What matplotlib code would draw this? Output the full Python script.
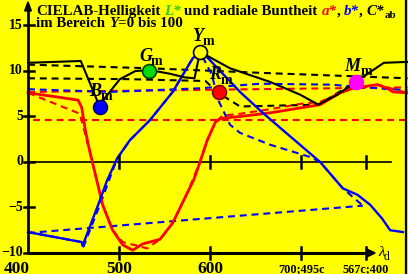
import matplotlib
matplotlib.use('Agg')
import matplotlib.pyplot as plt
from matplotlib.patches import Polygon

plt.rcParams['lines.scale_dashes'] = False

# ---------------- data (x: wavelength-like axis, y: CIELAB units) ----------------
xtick_pos = [400, 500, 600, 700, 771]
xtick_lab = ['400', '500', '600', '700;495c', '567c;400']
ytick_pos = [-10, -5, 0, 5, 10, 15]
ytick_lab = ['\u221210', '\u22125', '0', '5', '10', '15']

# black solid (lightness related curve)
bk_x = [400, 458, 477, 479, 485, 501, 518, 534, 556, 572, 583, 589, 622, 666, 699, 719, 740, 760, 791, 817]
bk_y = [10.9, 11.1, 6.5, 6.0, 7.1, 9.1, 10.0, 10.1, 9.7, 9.3, 9.2, 12.1, 10.3, 8.8, 7.4, 6.3, 7.4, 8.8, 10.9, 11.0]

# black dashed curves
kd1_x = [400, 534, 655, 817]
kd1_y = [10.7, 10.3, 9.8, 9.2]
kd2_x = [400, 512, 595, 609, 633, 719, 760]
kd2_y = [9.2, 9.1, 8.9, 7.6, 6.1, 6.3, 8.8]

# blue solid b*
bs_x = [400, 459, 460, 479, 487, 498, 512, 534, 559, 581, 589, 597, 633, 658, 721, 746, 762, 776, 789, 798, 812]
bs_y = [-7.7, -8.8, -9.2, -4.2, -2.0, 0.4, 2.4, 4.6, 7.7, 11.4, 12.1, 11.5, 7.7, 5.4, 0.0, -2.9, -3.6, -4.7, -6.2, -7.5, -7.7]

# blue dashed b* variant
bd_x = [400, 459, 461, 481, 498, 512, 534, 559, 581, 589, 602, 609, 622, 633, 666, 710, 721, 746, 768]
bd_y = [-7.7, -8.8, -9.3, -4.2, 0.4, 2.4, 4.6, 7.7, 11.4, 12.1, 9.6, 6.8, 4.1, 3.2, 1.9, 0.55, 0.0, -2.9, -4.8]

# blue dashed straight line and upper blue dashed line
bl_x = [400, 768]
bl_y = [-7.8, -4.8]
bh_x = [400, 490, 589, 655, 732, 798, 817]
bh_y = [8.0, 7.7, 8.1, 8.6, 8.5, 8.0, 7.9]

# red solid a*
rs_x = [400, 435, 455, 459, 463, 466, 476, 482, 493, 504, 515, 526, 545, 559, 575, 582, 589, 597, 606, 612, 633, 666, 721, 743, 757, 784, 795, 801, 817]
rs_y = [7.6, 7.1, 6.8, 6.0, 3.5, 2.0, -2.2, -4.7, -7.5, -9.1, -9.7, -9.0, -8.5, -6.7, -3.4, -2.0, 0.0, 2.4, 4.4, 4.8, 5.0, 5.4, 6.3, 7.6, 8.1, 8.5, 8.1, 7.7, 7.6]

# red dashed a* variant
rd_x = [400, 457, 463, 476, 482, 493, 504, 520, 531, 545, 559, 575, 589, 597, 606, 614, 633, 666, 700, 721, 743, 757, 784, 817]
rd_y = [7.6, 5.3, 3.0, -2.2, -4.7, -7.5, -8.8, -9.2, -9.5, -8.5, -6.7, -3.4, 0.0, 2.4, 4.4, 5.1, 5.3, 5.8, 6.4, 6.6, 7.6, 8.1, 8.5, 7.6]

# red dashed horizontal lines
rh1_x = [400, 817]
rh1_y = [7.7, 8.2]
rh2_x = [405, 815]
rh2_y = [4.6, 4.6]

# marked points
pt_names = ['B', 'G', 'Y', 'R', 'M']
pt_x = [479, 533, 589, 610, 760]
pt_y = [6.0, 10.0, 12.1, 7.7, 8.8]
pt_fc = ['#0000ff', '#00dd00', '#ffff00', '#ff0000', '#ff00ff']
pt_ec = ['#000080', '#004000', '#000000', '#800000', '#ff00ff']
lab_x = [474, 529, 586, 606, 756]
lab_y = [7.8, 11.6, 13.8, 9.6, 10.5]
sub_dx = [12.5, 12.5, 12.0, 12.5, 15.5]

# ---------------- figure ----------------
W, H, DPI = 408, 274, 100
YEL = '#ffff00'
fig = plt.figure(figsize=(W / DPI, H / DPI), dpi=DPI, facecolor=YEL)
ax = fig.add_axes([0, 0, 1, 1])
ax.set_facecolor(YEL)
X0, X1 = 369.23, 817.58
Y0, Y1 = -12.308, 17.802
ax.set_xlim(X0, X1)
ax.set_ylim(Y0, Y1)
ax.axis('off')

SERIF = 'Liberation Serif'
DASH = (5, 3.5)

# axes
ax.plot([400, 400], [-10, 17.2], color='black', lw=2.0, solid_capstyle='butt', zorder=5)
ax.add_patch(Polygon([[396.3, 16.6], [403.7, 16.6], [400, 17.6]], closed=True, color='black', zorder=5))
ax.plot([400, 771], [-10, -10], color='black', lw=2.2, solid_capstyle='butt', zorder=5)
ax.add_patch(Polygon([[772, -9.55], [772, -10.45], [781.5, -10]], closed=True, color='black', zorder=5))
ax.plot([400, 799], [0, 0], color='black', lw=1.2, zorder=1)
for xv in xtick_pos[1:]:
    ax.plot([xv, xv], [-0.65, 0.65], color='black', lw=1.8, zorder=5)
    ax.plot([xv, xv], [-10.65, -9.35], color='black', lw=1.8, zorder=5)
for yv in ytick_pos:
    ax.plot([395.5, 406.5], [yv, yv], color='black', lw=1.8, zorder=5)
# right border
ax.plot([815.6, 815.6], [Y0, Y1], color='black', lw=1.6, zorder=5)

# curves
ax.plot(kd1_x, kd1_y, color='black', lw=1.5, dashes=DASH, zorder=2)
ax.plot(kd2_x, kd2_y, color='black', lw=1.5, dashes=DASH, zorder=2)
ax.plot(rh1_x, rh1_y, color='red', lw=1.5, dashes=DASH, zorder=2)
ax.plot(rh2_x, rh2_y, color='red', lw=1.5, dashes=DASH, zorder=2)
ax.plot(bh_x, bh_y, color='blue', lw=1.5, dashes=DASH, zorder=2)
ax.plot(bl_x, bl_y, color='blue', lw=1.5, dashes=DASH, zorder=2)
ax.plot(rd_x, rd_y, color='red', lw=1.5, dashes=DASH, zorder=2)
ax.plot(bd_x, bd_y, color='blue', lw=1.5, dashes=DASH, zorder=2)
ax.plot(rs_x, rs_y, color='red', lw=2.0, zorder=3)
ax.plot(bs_x, bs_y, color='blue', lw=1.7, zorder=3)
ax.plot(bk_x, bk_y, color='black', lw=1.5, zorder=3)

# points and labels
for n, x, y, fc, ec, lx, ly, sd in zip(pt_names, pt_x, pt_y, pt_fc, pt_ec, lab_x, lab_y, sub_dx):
    ax.plot([x], [y], 'o', ms=10, mfc=fc, mec=ec, mew=1.2, zorder=6)
    ax.text(lx, ly, n, family=SERIF, weight='bold', style='italic', size=13,
            ha='center', va='center', zorder=7)
    ax.text(lx + sd, ly - 0.6, 'm', family=SERIF, weight='bold', size=10,
            ha='center', va='center', zorder=7)

# tick labels
for yv, s in zip(ytick_pos, ytick_lab):
    ax.text(394.5, yv, s, family=SERIF, weight='bold', size=10, ha='right', va='center')
big = {'400': 387.5}
for xv, s in zip(xtick_pos, xtick_lab):
    if len(s) == 3:
        ax.text(big.get(s, xv), -12.25, s, family=SERIF, weight='bold', size=12.5,
                ha='center', va='baseline')
    else:
        ax.text(xv, -12.05, s, family=SERIF, weight='bold', size=8.8,
                ha='center', va='baseline')
ax.text(785, -10.3, '\u03bb', family=SERIF, style='italic', size=11, ha='left', va='baseline')
ax.text(791, -10.8, 'd', family=SERIF, size=8.5, ha='left', va='baseline')

# title (multi-coloured, laid out piece by piece)
renderer = fig.canvas.get_renderer()


def space_w(fp):
    a = fig.text(0, 0, 'x x', **fp)
    b = fig.text(0, 0, 'xx', **fp)
    w = a.get_window_extent(renderer).width - b.get_window_extent(renderer).width
    a.remove(); b.remove()
    return w


def seq(x, y, pieces):
    for s, color, style, size, dy in pieces:
        fp = dict(family=SERIF, weight='bold', style=style, size=size)
        sw = space_w(fp)
        core = s.strip(' ')
        lead = len(s) - len(s.lstrip(' '))
        trail = len(s) - len(s.rstrip(' '))
        x += lead * sw
        t = fig.text(x / W, 1 - (y + dy) / H, core, color=color, va='baseline', ha='left', **fp)
        x += t.get_window_extent(renderer).width + trail * sw


TS = 10.8
seq(36, 15, [
    ('CIELAB-Helligkeit ', 'black', 'normal', TS, 0),
    ('L*', '#22cc22', 'italic', TS, 0),
    (' und radiale Buntheit ', 'black', 'normal', TS, 0),
    ('a*', 'red', 'italic', TS, 0),
    (', ', 'black', 'normal', TS, 0),
    ('b*', 'blue', 'italic', TS, 0),
    (', ', 'black', 'normal', TS, 0),
    ('C*', 'black', 'italic', TS, 0),
    ('ab', 'black', 'normal', 8, 3),
])
seq(36, 27, [
    ('im Bereich ', 'black', 'normal', TS, 0),
    ('Y', 'black', 'italic', TS, 0),
    ('=0 bis 100', 'black', 'normal', TS, 0),
])

fig.savefig('out.png', dpi=DPI, facecolor=YEL)
